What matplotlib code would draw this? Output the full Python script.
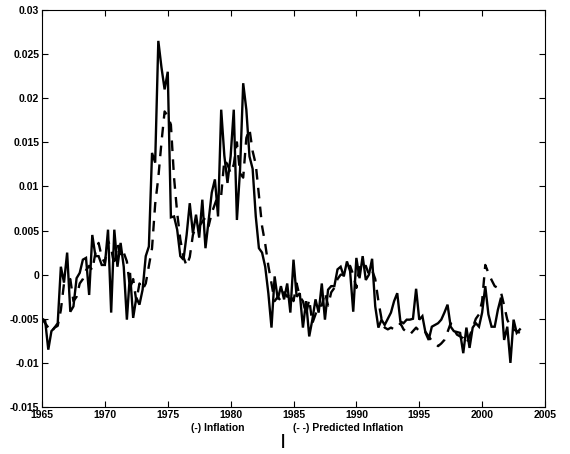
import numpy as np
import matplotlib
matplotlib.use('Agg')
import matplotlib.pyplot as plt

plt.rcParams['font.family'] = ['Liberation Sans', 'DejaVu Sans']

# quarterly inflation, 1965Q1 .. 2003Q1
inflation = [
    -0.0050, -0.0052, -0.0085, -0.0064,   # 1965
    -0.0060, -0.0055, 0.0009, -0.0009,    # 1966
    0.0025, -0.0042, -0.0036, -0.0004,    # 1967
    0.0002, 0.0017, 0.0019, -0.0023,      # 1968
    0.0045, 0.0021, 0.0021, 0.0011,       # 1969
    0.0011, 0.0051, -0.0043, 0.0051,      # 1970
    0.0009, 0.0036, 0.0009, -0.0051,      # 1971
    0.0002, -0.0049, -0.0026, -0.0034,    # 1972
    -0.0017, 0.0021, 0.0032, 0.0138,      # 1973
    0.0127, 0.0265, 0.0235, 0.0210,       # 1974
    0.0230, 0.0065, 0.0066, 0.0051,       # 1975
    0.0021, 0.0017, 0.0045, 0.0081,       # 1976
    0.0047, 0.0068, 0.0042, 0.0085,       # 1977
    0.0030, 0.0062, 0.0093, 0.0108,       # 1978
    0.0066, 0.0187, 0.0135, 0.0104,       # 1979
    0.0134, 0.0187, 0.0062, 0.0119,       # 1980
    0.0217, 0.0187, 0.0134, 0.0120,       # 1981
    0.0066, 0.0030, 0.0025, 0.0009,       # 1982
    -0.0021, -0.0060, -0.0002, -0.0028,   # 1983
    -0.0013, -0.0028, -0.0010, -0.0043,   # 1984
    0.0017, -0.0025, -0.0021, -0.0060,    # 1985
    -0.0030, -0.0070, -0.0051, -0.0028,   # 1986
    -0.0043, -0.0010, -0.0051, -0.0017,   # 1987
    -0.0013, -0.0013, 0.0006, 0.0009,     # 1988
    -0.0002, 0.0015, 0.0004, -0.0042,     # 1989
    0.0019, -0.0004, 0.0021, -0.0006,     # 1990
    0.0000, 0.0018, -0.0036, -0.0060,     # 1991
    -0.0051, -0.0057, -0.0050, -0.0043,   # 1992
    -0.0030, -0.0021, -0.0053, -0.0055,   # 1993
    -0.0051, -0.0051, -0.0050, -0.0016,   # 1994
    -0.0051, -0.0047, -0.0066, -0.0074,   # 1995
    -0.0059, -0.0057, -0.0055, -0.0051,   # 1996
    -0.0043, -0.0034, -0.0059, -0.0064,   # 1997
    -0.0065, -0.0066, -0.0089, -0.0060,   # 1998
    -0.0083, -0.0060, -0.0055, -0.0059,   # 1999
    -0.0043, -0.0013, -0.0045, -0.0059,   # 2000
    -0.0059, -0.0040, -0.0026, -0.0074,   # 2001
    -0.0059, -0.0100, -0.0051, -0.0066,   # 2002
    -0.0062,                              # 2003
]

predicted = [
    -0.0050, -0.0055, -0.0060, -0.0065,   # 1965
    -0.0060, -0.0058, -0.0040, -0.0010,   # 1966
    -0.0010, -0.0005, -0.0030, -0.0025,   # 1967
    -0.0010, -0.0005, 0.0005, 0.0010,     # 1968
    0.0005, 0.0025, 0.0036, 0.0020,       # 1969
    0.0013, 0.0038, 0.0030, 0.0010,       # 1970
    0.0035, 0.0020, 0.0025, 0.0015,       # 1971
    -0.0015, -0.0005, -0.0030, -0.0010,   # 1972
    -0.0017, -0.0010, 0.0010, 0.0030,     # 1973
    0.0080, 0.0110, 0.0150, 0.0185,       # 1974
    0.0180, 0.0170, 0.0110, 0.0070,       # 1975
    0.0040, 0.0020, 0.0010, 0.0020,       # 1976
    0.0045, 0.0055, 0.0055, 0.0060,       # 1977
    0.0065, 0.0055, 0.0070, 0.0080,       # 1978
    0.0090, 0.0090, 0.0130, 0.0125,       # 1979
    0.0115, 0.0125, 0.0150, 0.0115,       # 1980
    0.0110, 0.0155, 0.0165, 0.0140,       # 1981
    0.0125, 0.0090, 0.0055, 0.0035,       # 1982
    0.0010, -0.0010, -0.0030, -0.0025,    # 1983
    -0.0030, -0.0020, -0.0025, -0.0020,   # 1984
    -0.0030, -0.0010, -0.0025, -0.0030,   # 1985
    -0.0045, -0.0028, -0.0055, -0.0045,   # 1986
    -0.0035, -0.0035, -0.0020, -0.0035,   # 1987
    -0.0020, -0.0015, -0.0005, 0.0000,    # 1988
    0.0000, 0.0000, 0.0010, 0.0000,       # 1989
    -0.0015, 0.0010, 0.0005, 0.0010,      # 1990
    0.0000, 0.0005, -0.0005, -0.0030,     # 1991
    -0.0050, -0.0060, -0.0062, -0.0060,   # 1992
    -0.0062, -0.0060, -0.0055, -0.0062,   # 1993
    -0.0065, -0.0068, -0.0064, -0.0060,   # 1994
    -0.0064, -0.0062, -0.0065, -0.0070,   # 1995
    -0.0075, -0.0078, -0.0081, -0.0078,   # 1996
    -0.0074, -0.0065, -0.0055, -0.0062,   # 1997
    -0.0068, -0.0070, -0.0072, -0.0078,   # 1998
    -0.0070, -0.0060, -0.0050, -0.0045,   # 1999
    -0.0030, 0.0011, 0.0002, -0.0006,     # 2000
    -0.0013, -0.0015, -0.0020, -0.0035,   # 2001
    -0.0051, -0.0059, -0.0062, -0.0064,   # 2002
    -0.0066,                              # 2003
]

start_year = 1965
xticks = [1965, 1970, 1975, 1980, 1985, 1990, 1995, 2000, 2005]
yticks = [-0.015, -0.01, -0.005, 0, 0.005, 0.01, 0.015, 0.02, 0.025, 0.03]
yticklabels = ['-0.015', '-0.01', '-0.005', '0', '0.005', '0.01',
               '0.015', '0.02', '0.025', '0.03']

dates = start_year + 0.25 * np.arange(len(inflation))

fig = plt.figure(figsize=(5.7, 4.54), dpi=100)
ax = fig.add_axes([42 / 570, 1 - 407 / 454, 503 / 570, 397 / 454])

ax.plot(dates, inflation, color='k', lw=1.7, solid_joinstyle='miter')
ax.plot(dates, predicted, color='k', lw=1.7, dashes=(4.5, 3.5))

ax.set_xlim(1965, 2005)
ax.set_ylim(-0.015, 0.03)
ax.set_xticks(xticks)
ax.set_xticklabels([str(t) for t in xticks])
ax.set_yticks(yticks)
ax.set_yticklabels(yticklabels)
ax.tick_params(direction='in', length=4, width=0.8, top=True, right=True,
               labelsize=7.5, pad=2)
for lab in ax.get_xticklabels() + ax.get_yticklabels():
    lab.set_fontweight('bold')
for s in ax.spines.values():
    s.set_linewidth(0.8)

fig.text(218 / 570, 1 - 428 / 454, '(-) Inflation', ha='center', va='center',
         fontsize=7.5, fontweight='bold')
fig.text(348 / 570, 1 - 428 / 454, '(- -) Predicted Inflation', ha='center',
         va='center', fontsize=7.5, fontweight='bold')
fig.text(283 / 570, 1 - 441 / 454, '|', ha='center', va='center',
         fontsize=11, fontweight='bold')

fig.savefig('out.png', dpi=100)
